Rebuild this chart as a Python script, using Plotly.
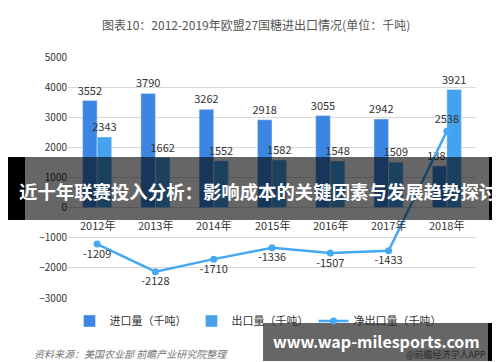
import plotly.graph_objects as go

years = ["2012年", "2013年", "2014年", "2015年", "2016年", "2017年", "2018年"]
imports = [3552, 3790, 3262, 2918, 3055, 2942, 1383]
exports = [2343, 1662, 1552, 1582, 1548, 1509, 3921]
net_exports = [-1209, -2128, -1710, -1336, -1507, -1433, 2538]

W, H = 500, 362
ML, MR, MT, MB = 60, 32, 49, 72
PW, PH = W - ML - MR, H - MT - MB


def px(x):
    return (x - ML) / PW


def py(y):
    return (H - MB - y) / PH


FONT = "Noto Sans CJK SC, Microsoft YaHei, sans-serif"
C_IMP = "#3D85E2"
C_EXP = "#45A2EC"
C_NET = "#45A8F2"

fig = go.Figure()
fig.add_trace(go.Bar(
    x=years, y=imports, name="进口量（千吨）", marker_color=C_IMP,
    text=imports, textposition="outside", cliponaxis=False, constraintext="none",
    textfont=dict(size=11, color="#333333"),
))
fig.add_trace(go.Bar(
    x=years, y=exports, name="出口量（千吨）", marker_color=C_EXP,
    text=exports, textposition="outside", cliponaxis=False, constraintext="none",
    textfont=dict(size=11, color="#333333"),
))
fig.add_trace(go.Scatter(
    x=years, y=net_exports, name="净出口量（千吨）", mode="lines+markers+text",
    line=dict(color=C_NET, width=2.5), marker=dict(size=7, color=C_NET),
    text=net_exports, textposition=["bottom center"] * 6 + ["top center"],
    textfont=dict(size=11, color="#333333"), cliponaxis=False,
))

annotations = []
for yr in years:
    annotations.append(dict(x=yr, y=0, xref="x", yref="y", text=yr, showarrow=False,
                            yanchor="top", yshift=-7, font=dict(size=11, color="#333333")))

annotations.append(dict(x=px(248), y=py(16), xref="paper", yref="paper",
                        text="图表10：2012-2019年欧盟27国糖进出口情况(单位：千吨)",
                        showarrow=False, xanchor="center", yanchor="middle",
                        font=dict(size=12, color="#555555")))
annotations.append(dict(x=px(24), y=py(345), xref="paper", yref="paper",
                        text="资料来源：美国农业部 前瞻产业研究院整理",
                        showarrow=False, xanchor="left", yanchor="middle",
                        font=dict(size=10, color="#777777", style="italic")))
annotations.append(dict(x=px(480), y=py(346), xref="paper", yref="paper",
                        text="@前瞻经济学人APP",
                        showarrow=False, xanchor="right", yanchor="middle",
                        font=dict(size=9, color="#2a2a2a")))
annotations.append(dict(x=px(250), y=py(183), xref="paper", yref="paper",
                        text="<b>近十年联赛投入分析：影响成本的关键因素与发展趋势探讨</b>",
                        showarrow=False, xanchor="center", yanchor="middle",
                        font=dict(size=18.4, color="#ffffff")))
annotations.append(dict(x=px(368), y=py(333), xref="paper", yref="paper",
                        text="<b>www.wap-milesports.com</b>",
                        showarrow=False, xanchor="center", yanchor="middle",
                        font=dict(size=16, color="#ffffff")))

shapes = [
    dict(type="rect", xref="paper", yref="paper", x0=px(17), x1=px(481), y0=py(212), y1=py(149),
         fillcolor="rgba(0,0,0,0.6)", line_width=0, layer="above"),
    dict(type="rect", xref="paper", yref="paper", x0=px(0), x1=px(17), y0=py(212), y1=py(149),
         fillcolor="#000000", line_width=0, layer="above"),
    dict(type="rect", xref="paper", yref="paper", x0=px(481), x1=px(500), y0=py(212), y1=py(149),
         fillcolor="#000000", line_width=0, layer="above"),
    dict(type="rect", xref="paper", yref="paper", x0=px(255), x1=px(480), y0=py(353), y1=py(315),
         fillcolor="rgba(0,0,0,0.6)", line_width=0, layer="above"),
    dict(type="rect", xref="paper", yref="paper", x0=px(480), x1=px(491), y0=py(353), y1=py(315),
         fillcolor="#000000", line_width=0, layer="above"),
]

fig.update_layout(
    width=W, height=H,
    margin=dict(l=ML, r=MR, t=MT, b=MB),
    paper_bgcolor="white", plot_bgcolor="white",
    font=dict(family=FONT, size=11, color="#333333"),
    barmode="group", bargap=0.5, bargroupgap=0,
    showlegend=True,
    legend=dict(orientation="h", x=px(250), y=py(313), xanchor="center", yanchor="middle",
                font=dict(size=11, color="#333333"), itemwidth=30,
                bgcolor="rgba(0,0,0,0)"),
    annotations=annotations,
    shapes=shapes,
)
fig.update_xaxes(showticklabels=False, showgrid=False, showline=False, ticks="",
                 range=[-0.5, 6.5])
fig.update_yaxes(range=[-3000, 5000], dtick=1000, gridcolor="#d9d9d9", gridwidth=1,
                 zeroline=True, zerolinecolor="#d9d9d9", zerolinewidth=1,
                 tickfont=dict(size=10, color="#333333"), showline=False, ticks="")

fig.write_html("out.html")
